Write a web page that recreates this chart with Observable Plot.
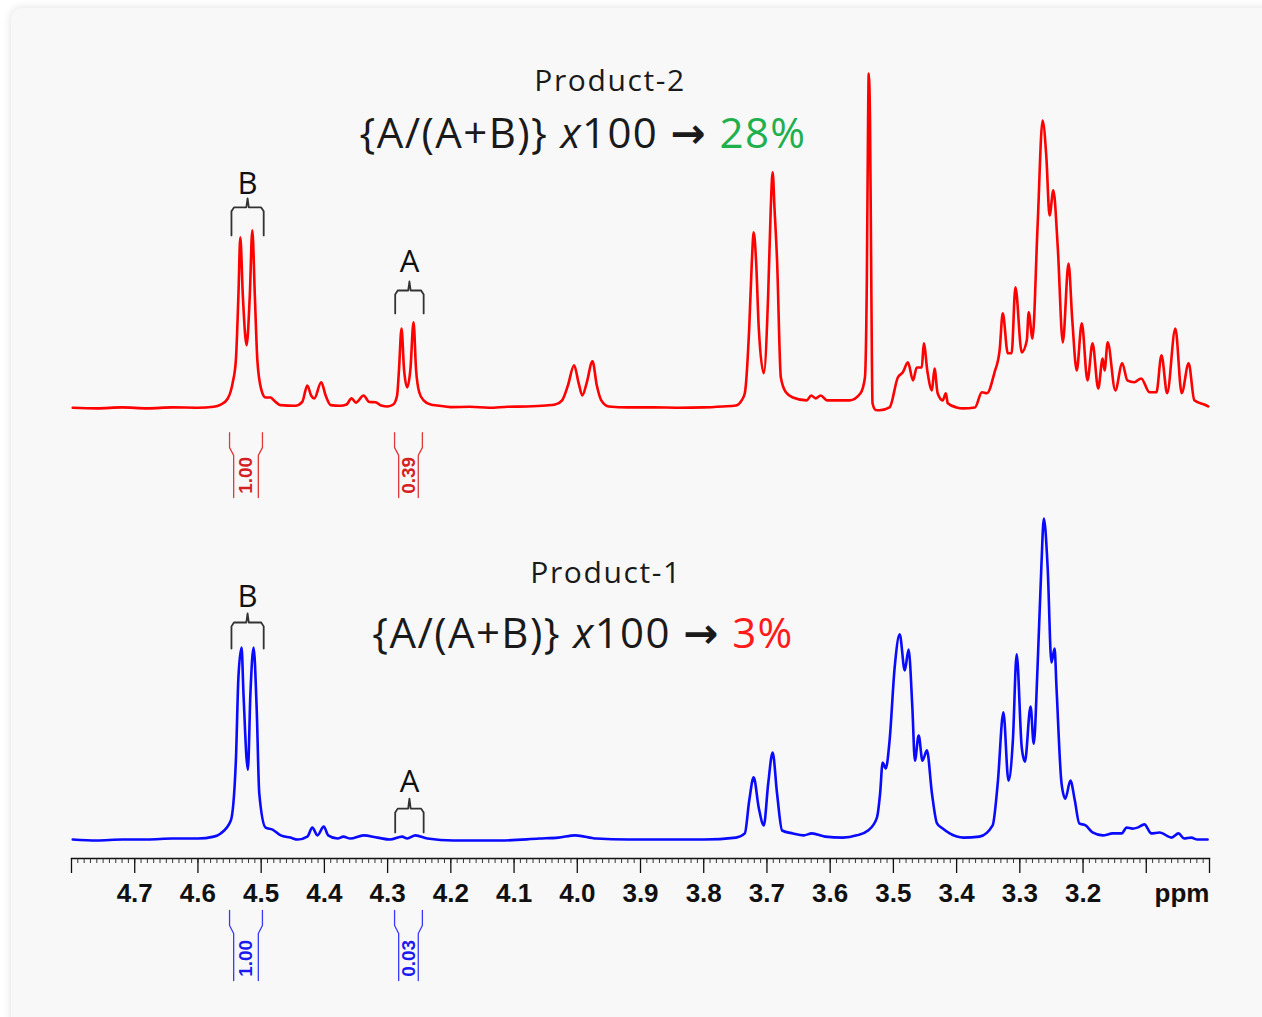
<!DOCTYPE html>
<html><head><meta charset="utf-8">
<script src="https://cdn.jsdelivr.net/npm/d3@7"></script>
<script src="https://cdn.jsdelivr.net/npm/@observablehq/plot@0.6"></script>
<style>
html,body{margin:0;padding:0;background:#fff;}
#wrap{position:relative;width:1262px;height:1017px;overflow:hidden;}
#card{position:absolute;left:11px;top:8px;width:1270px;height:1040px;background:#f8f8f8;border-radius:10px;box-shadow:0 0 9px rgba(0,0,0,0.13);}
#chart{position:absolute;left:0;top:0;}
.t{position:absolute;font-family:"Open Sans",sans-serif;color:#1a1a1a;white-space:nowrap;transform:translate(-50%,-50%);line-height:1;}
.arrow{font-family:"DejaVu Sans";font-weight:bold;}
</style></head><body>
<div id="wrap">
<div id="card"></div>
<div id="chart"></div>
<div class="t" style="left:610px;top:80px;font-size:30px;letter-spacing:1.6px">Product-2</div>
<div class="t" style="left:583px;top:133px;font-size:42px;letter-spacing:1.4px">{A/(A+B)} <i>x</i>100 <span class="arrow">→</span> <span style="color:#1fb04e">28%</span></div>
<div class="t" style="left:606px;top:572px;font-size:30px;letter-spacing:1.6px">Product-1</div>
<div class="t" style="left:583px;top:633px;font-size:42px;letter-spacing:1.4px">{A/(A+B)} <i>x</i>100 <span class="arrow">→</span> <span style="color:#ff1a1a">3%</span></div>
</div>
<script>
// ---- Product-2 (red) trace: chemical shift (ppm) and relative intensity ----
const redPpm = [4.798,4.76,4.72,4.68,4.64,4.60,4.575,4.564,4.553,4.545,4.540,4.536,4.533,4.529,4.523,4.518,4.514,4.510,4.506,4.500,4.493,4.485,4.480,4.469,4.446,4.435,4.427,4.421,4.416,4.405,4.398,4.390,4.375,4.365,4.357,4.350,4.338,4.329,4.319,4.310,4.300,4.291,4.285,4.282,4.278,4.274,4.269,4.264,4.259,4.255,4.250,4.243,4.232,4.221,4.20,4.17,4.14,4.11,4.08,4.05,4.035,4.024,4.015,4.005,3.998,3.992,3.985,3.976,3.969,3.962,3.950,3.92,3.88,3.84,3.80,3.77,3.749,3.740,3.735,3.728,3.724,3.721,3.717,3.713,3.705,3.698,3.694,3.691,3.688,3.684,3.678,3.670,3.659,3.637,3.630,3.623,3.615,3.605,3.586,3.569,3.552,3.545,3.542,3.540,3.539,3.537,3.535,3.533,3.528,3.522,3.506,3.493,3.485,3.477,3.469,3.463,3.455,3.452,3.446,3.439,3.435,3.430,3.422,3.417,3.414,3.400,3.390,3.371,3.360,3.352,3.340,3.332,3.327,3.319,3.313,3.307,3.297,3.289,3.286,3.280,3.272,3.264,3.258,3.253,3.247,3.240,3.232,3.223,3.217,3.210,3.202,3.193,3.185,3.176,3.169,3.166,3.161,3.149,3.138,3.130,3.119,3.108,3.095,3.084,3.076,3.067,3.054,3.044,3.033,3.024,3.005,3.002];
const redIntensity = [0.2,0.0,0.3,0.0,0.3,0.2,0.5,1.2,3.0,8,15,35,53.1,35,19.6,35,55.3,35,14.9,6,3.4,3.4,2.5,1.0,0.8,2,7.1,4,3.1,8.1,4,1.0,0.8,1.2,3.1,1.8,4.0,2.0,1.9,0.9,0.6,1.2,4,12,24.8,12,6.5,12,26.7,12,5,2.5,1.2,0.9,0.4,0.5,0.2,0.5,0.6,0.9,1.2,2.5,7,13.4,8,4.0,8,14.6,7,2.5,0.6,0.3,0.3,0.2,0.3,0.6,0.9,2.5,4.7,25.2,45,54.7,45,25.2,10.9,35.7,62,73.3,62,46.0,9.6,5,3.4,2.5,4.0,3.1,4.0,2.5,2.5,2.5,4.7,9.6,40,90,104,90,40,1.6,-0.5,-0.6,0.3,9.6,11.2,14.3,8.7,12.7,12.7,20.2,11.2,5.6,12.4,4.7,2.5,4.7,1.6,0.3,0,0.3,5.0,4.7,11.2,18.0,29.5,17.1,17.1,37.6,17.4,21.1,29.8,21.7,56.2,89.4,77.9,59.9,67.7,50.0,20.5,45.0,27.3,11.8,26.4,8.7,20.2,6.2,15.5,11.8,20.5,5.6,14.0,8.7,8.1,9.3,5.0,5.0,16.5,4.7,24.8,4.7,14.0,2.5,0.9,0.6];

// ---- Product-1 (blue) trace ----
const bluePpm = [4.798,4.76,4.72,4.68,4.64,4.60,4.575,4.564,4.548,4.540,4.536,4.531,4.528,4.521,4.517,4.512,4.507,4.503,4.493,4.482,4.469,4.454,4.442,4.427,4.419,4.411,4.401,4.394,4.379,4.370,4.359,4.338,4.316,4.296,4.277,4.269,4.256,4.237,4.196,4.122,4.06,4.03,4.003,3.97,3.92,3.85,3.80,3.749,3.735,3.728,3.721,3.713,3.705,3.698,3.691,3.684,3.676,3.659,3.642,3.629,3.608,3.580,3.558,3.540,3.526,3.521,3.517,3.512,3.506,3.498,3.490,3.482,3.476,3.470,3.466,3.460,3.454,3.447,3.439,3.431,3.422,3.411,3.389,3.364,3.343,3.335,3.326,3.318,3.311,3.305,3.297,3.292,3.283,3.278,3.272,3.266,3.262,3.256,3.250,3.245,3.242,3.234,3.228,3.220,3.213,3.206,3.196,3.185,3.169,3.153,3.139,3.131,3.122,3.114,3.103,3.092,3.079,3.060,3.049,3.040,3.029,3.019,3.003];
const blueIntensity = [0.3,0.0,0.3,0.3,0.6,0.6,1.2,2.2,6.2,24.8,50.6,59.9,45.7,22.0,45.7,59.9,40.4,14.6,4.0,3.4,1.6,0.9,0.3,1.2,4.0,1.6,4.3,1.6,0.6,1.2,0.6,1.6,0.9,0.3,1.2,0.6,1.6,0.6,0.0,0.0,0.6,0.9,1.6,0.6,0.3,0.3,0.3,0.9,2.2,12.4,19.6,10.2,4.7,17.7,27.3,14.6,3.1,2.2,1.6,2.2,1.2,0.9,1.6,3.1,7.1,14.6,24.2,22.4,31.1,53.7,64.0,52.8,59.3,41.3,24.8,32.6,24.8,28.0,14.6,5.3,3.7,2.2,0.9,1.2,4.7,17.7,39.8,18.6,31.1,57.8,28.9,24.5,41.6,30.1,53.7,84.8,100,84.8,55.3,59.6,47.5,17.7,13.0,18.6,12.4,5.3,4.7,2.5,1.6,2.2,2.2,4.0,3.7,4.0,5.0,2.2,2.5,0.9,2.2,0.6,0.9,0.3,0.3];

// ---- axis ----
const tickPpm = [4.7,4.6,4.5,4.4,4.3,4.2,4.1,4.0,3.9,3.8,3.7,3.6,3.5,3.4,3.3,3.2];
const tickLabels = ["4.7","4.6","4.5","4.4","4.3","4.2","4.1","4.0","3.9","3.8","3.7","3.6","3.5","3.4","3.3","3.2"];
const axisUnit = "ppm";

// ---- signal labels (brackets) and integrals ----
const signalNames = ["B","A"];
const signalFrom = [4.547,4.288];
const signalTo = [4.496,4.243];
const integralFrom = [4.550,4.289];
const integralTo = [4.498,4.245];
const redIntegrals = ["1.00","0.39"];
const blueIntegrals = ["1.00","0.03"];

const RED = "#ff0000", BLUE = "#0a0aff";
const RED_OFFSET = 134.2;
const AXIS_Y = -5.59;

const red = redPpm.map((p,i)=>({ppm:p, y:redIntensity[i] + RED_OFFSET}));
const blue = bluePpm.map((p,i)=>({ppm:p, y:blueIntensity[i]}));

// bracket geometry (annotation): [ends, bar, tip, label] heights for each trace
const bracketLevels = {
  red:  [[187.9,196.6,199.4,204.0],[163.7,170.8,173.6,179.5]],
  blue: [[59.6,67.7,70.5,75.5],[2.5,9.9,13.0,18.0]]
};
function bracketPath(i, lv, series){
  const a = signalFrom[i], b = signalTo[i], c = (a+b)/2;
  return [[a,lv[0]],[a,lv[1]-1.2],[a-0.004,lv[1]],[c+0.002,lv[1]],[c,lv[2]],[c-0.002,lv[1]],[b+0.004,lv[1]],[b,lv[1]-1.2],[b,lv[0]]]
    .map(([x,y])=>({x,y,k:series+i}));
}
const brackets = [];
const bracketText = [];
["red","blue"].forEach(s=>{
  bracketLevels[s].forEach((lv,i)=>{
    brackets.push(...bracketPath(i,lv,s));
    bracketText.push({x:(signalFrom[i]+signalTo[i])/2, y:lv[3], t:signalNames[i]});
  });
});

// integral marks
const integralLevels = {red:[126.7,122.0,119.6,106.5,113.4], blue:[-21.7,-26.4,-28.9,-43.5,-36.6]};
const SHIFT = 0.0065;
const integralLines = [], integralText = [];
["red","blue"].forEach(s=>{
  const L = integralLevels[s];
  const vals = s==="red" ? redIntegrals : blueIntegrals;
  integralFrom.forEach((a,i)=>{
    const b = integralTo[i];
    [[a,-1],[b,1]].forEach(([x,dir],j)=>{
      const inner = dir<0 ? x - SHIFT : x + SHIFT;
      [[x,L[0]],[x,L[1]],[inner,L[2]],[inner,L[3]]].forEach(([px,py])=>integralLines.push({x:px,y:py,k:s+i+"_"+j,s}));
    });
    integralText.push({x:(a+b)/2, y:L[4], t:vals[i], s});
  });
});

const minorTicks = d3.range(0,181).map(i=>+(4.8 - i*0.01).toFixed(2));
const majorTicks = d3.range(0,19).map(i=>+(4.8 - i*0.1).toFixed(1));

const chart = Plot.plot({
  width:1262, height:1017,
  marginLeft:71, marginRight:53, marginTop:35, marginBottom:159,
  style:{background:"transparent", overflow:"visible", fontFamily:"Liberation Sans, Arial, sans-serif"},
  x:{domain:[4.8,3.0], label:null, axis:null},
  y:{domain:[AXIS_Y,250], axis:null, label:null},
  marks:[
    Plot.frame({anchor:"bottom", stroke:"#111", strokeWidth:1.4}),
    Plot.axisX(minorTicks, {anchor:"bottom", tickSize:5, tickFormat:()=>"", stroke:"#222", strokeWidth:0.9}),
    Plot.axisX(majorTicks, {anchor:"bottom", tickSize:15, tickPadding:10,
      tickFormat:d=>{const i=tickPpm.findIndex(t=>Math.abs(t-d)<1e-6); return i<0?"":tickLabels[i];},
      fontSize:26, fontWeight:"bold", fill:"#111", stroke:"#111", strokeWidth:1.3}),
    Plot.text([axisUnit], {x:()=>3.0, frameAnchor:"bottom", textAnchor:"end", lineAnchor:"top", dy:25,
      fontSize:26, fontWeight:"bold", fill:"#111"}),
    Plot.line(red, {x:"ppm", y:"y", stroke:RED, strokeWidth:2.6, curve:"monotone-x"}),
    Plot.line(blue, {x:"ppm", y:"y", stroke:BLUE, strokeWidth:2.6, curve:"monotone-x"}),
    Plot.line(brackets, {x:"x", y:"y", z:"k", stroke:"#333", strokeWidth:1.8, strokeLinejoin:"round", strokeLinecap:"round", curve:"linear"}),
    Plot.text(bracketText, {x:"x", y:"y", text:"t", fontSize:31, fill:"#111", fontFamily:"Open Sans", fontWeight:"normal"}),
    Plot.line(integralLines, {x:"x", y:"y", z:"k", stroke:d=>d.s==="red"?"#e03a3a":"#3a3aff", strokeWidth:1.3}),
    Plot.text(integralText, {x:"x", y:"y", text:"t", rotate:-90, fontSize:19, fontWeight:"bold",
      fill:d=>d.s==="red"?"#d42020":"#1a1aee"})
  ]
});
document.getElementById("chart").appendChild(chart);
</script>
</body></html>
